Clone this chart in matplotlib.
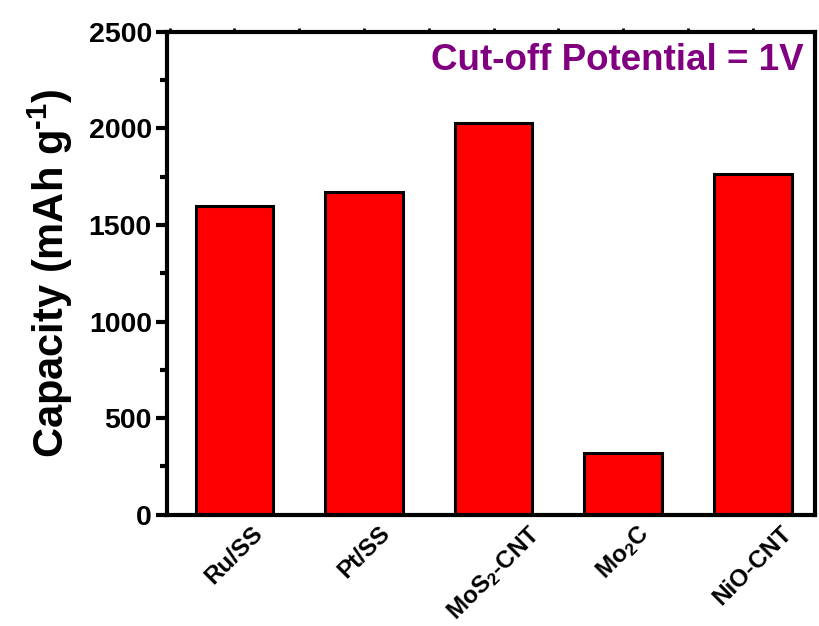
import matplotlib
matplotlib.use("Agg")
import matplotlib.pyplot as plt
from matplotlib.ticker import MultipleLocator

plt.rcParams["font.family"] = ["Liberation Sans", "DejaVu Sans"]
plt.rcParams["font.weight"] = "bold"
plt.rcParams["mathtext.fontset"] = "custom"
plt.rcParams["mathtext.rm"] = "Liberation Sans:bold"
plt.rcParams["mathtext.bf"] = "Liberation Sans:bold"
plt.rcParams["mathtext.it"] = "Liberation Sans:bold"
plt.rcParams["mathtext.default"] = "bf"

categories = ["Ru/SS", "Pt/SS", "MoS$_2$-CNT", "Mo$_2$C", "NiO-CNT"]
capacity = [1600, 1670, 2030, 318, 1765]
y_ticks = [0, 500, 1000, 1500, 2000, 2500]

fig = plt.figure(figsize=(8.19, 6.26), dpi=100)
ax = fig.add_axes([0.204, 0.178, 0.791, 0.771])

x = list(range(len(categories)))
ax.bar(x, capacity, width=0.6, color="#ff0000", edgecolor="black", linewidth=2.2, zorder=2)

ax.set_xlim(-0.52, 4.48)
ax.set_ylim(0, 2500)
ax.set_yticks(y_ticks)
ax.yaxis.set_minor_locator(MultipleLocator(250))
ax.set_xticks(x)
ax.set_xticklabels(categories, rotation=45, ha="center", va="top", fontsize=17.5, fontweight="bold")
ax.xaxis.set_minor_locator(MultipleLocator(0.5))

for sp in ax.spines.values():
    sp.set_linewidth(3)

ax.tick_params(axis="y", which="major", direction="out", length=8, width=3, labelsize=20.5, pad=3)
ax.tick_params(axis="y", which="minor", direction="out", length=5, width=3)
ax.tick_params(axis="y", which="both", right=False)
ax.tick_params(axis="x", which="both", bottom=False, top=True, direction="out", length=3, width=2)
ax.tick_params(axis="x", which="major", pad=2)

ax.set_ylabel("Capacity (mAh g$^{\u2010 1}$)", fontsize=30, fontweight="bold", labelpad=10)

ax.text(0.982, 0.94, "Cut-off Potential = 1V", transform=ax.transAxes, ha="right", va="center",
        fontsize=26.5, fontweight="bold", color="#800080")

fig.savefig("out.png", dpi=100)
